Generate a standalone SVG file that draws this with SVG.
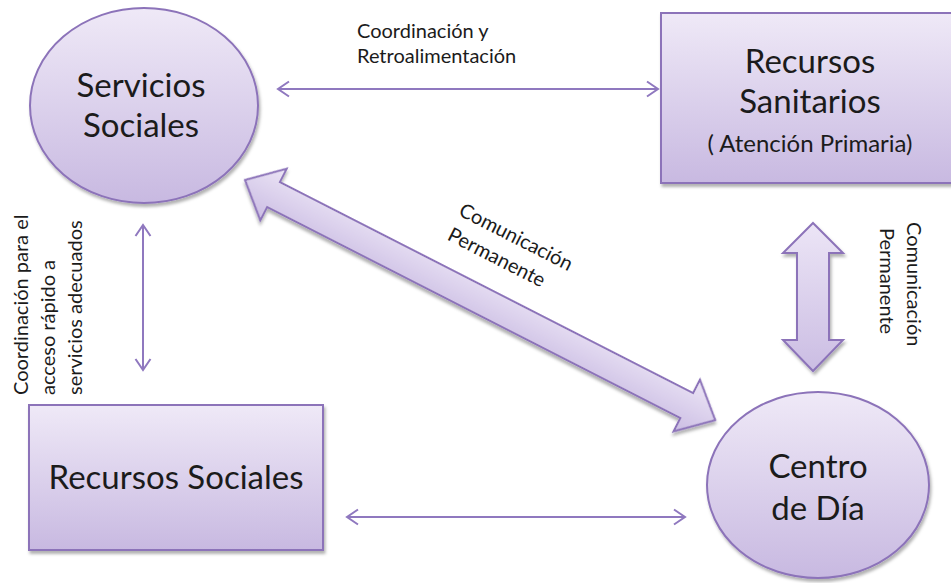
<svg xmlns="http://www.w3.org/2000/svg" width="951" height="583" viewBox="0 0 951 583">
  <style>
    .shape { fill: url(#lav); stroke: #8c73b9; stroke-width: 2; filter: url(#shadow); }
    .fat { fill: url(#lavAcross); stroke: #8c73b9; stroke-width: 2; filter: url(#shadow); }
    .big { font-family: Lato, "Open Sans", sans-serif; font-size: 33px; fill: #1b1b1b; text-anchor: middle; }
    .sub { font-family: Lato, "Open Sans", sans-serif; font-size: 24px; fill: #1b1b1b; text-anchor: middle; }
    .lbl { font-family: Lato, "Open Sans", sans-serif; font-size: 20px; fill: #1b1b1b; }
    .thin { fill: none; stroke: #8f78bf; stroke-width: 2; marker-start: url(#chev); marker-end: url(#chev); }
  </style>
  <defs>
    <linearGradient id="lav" x1="0" y1="0" x2="0" y2="1">
      <stop offset="0" stop-color="#efe9f7"/>
      <stop offset="1" stop-color="#c8b9e1"/>
    </linearGradient>
    <linearGradient id="lavAcross" x1="0" y1="0" x2="0" y2="1">
      <stop offset="0" stop-color="#ece5f6"/>
      <stop offset="1" stop-color="#cbbde3"/>
    </linearGradient>
    <filter id="shadow" x="-10%" y="-10%" width="130%" height="130%">
      <feDropShadow dx="1.5" dy="3" stdDeviation="1.8" flood-color="#000" flood-opacity="0.3"/>
    </filter>
    <marker id="chev" viewBox="-13 -9 15 18" markerWidth="15" markerHeight="18" refX="0" refY="0" orient="auto-start-reverse" markerUnits="userSpaceOnUse">
      <path d="M-11,-7.5 L0,0 L-11,7.5" fill="none" stroke="#8f78bf" stroke-width="2"/>
    </marker>
  </defs>

  <rect width="951" height="583" fill="#ffffff"/>

  <!-- thin two-way connectors and the broad arrows -->
  <g id="connectors">
    <line class="thin" x1="278" y1="89" x2="658" y2="89"/>
    <line class="thin" x1="143" y1="225" x2="143" y2="370"/>
    <line class="thin" x1="347" y1="517" x2="685" y2="517"/>
    <polygon class="fat" transform="translate(245,180) rotate(27.05)"
      points="0,0 32,-29 32,-14 496,-14 496,-29 528,0 496,29 496,14 32,14 32,29"/>
    <polygon class="fat" points="813,223 843,253 829,253 829,340 843,340 813,371 783,340 797,340 797,253 783,253"/>
  </g>

  <!-- edge labels -->
  <g id="labels">
    <text class="lbl" x="357" y="38">Coordinación y</text>
    <text class="lbl" x="357" y="63">Retroalimentación</text>
    <g transform="translate(28,395) rotate(-90)">
      <text class="lbl" x="0" y="0">Coordinación  para el</text>
      <text class="lbl" x="0" y="27">acceso rápido a</text>
      <text class="lbl" x="0" y="54">servicios adecuados</text>
    </g>
    <g transform="translate(907,222) rotate(90)">
      <text class="lbl" x="0" y="0">Comunicación</text>
      <text class="lbl" x="6" y="27">Permanente</text>
    </g>
    <g transform="translate(513,243) rotate(27)">
      <text class="lbl" x="0" y="0" text-anchor="middle">Comunicación</text>
      <text class="lbl" x="-8" y="27" text-anchor="middle">Permanente</text>
    </g>
  </g>

  <g id="servicios-sociales">
    <ellipse class="shape" cx="144" cy="105.5" rx="114" ry="97.5"/>
    <text class="big" x="141" y="97">Servicios</text>
    <text class="big" x="141" y="137">Sociales</text>
  </g>

  <g id="recursos-sanitarios">
    <rect class="shape" x="661" y="13" width="298" height="170"/>
    <text class="big" x="810" y="73">Recursos</text>
    <text class="big" x="810" y="113">Sanitarios</text>
    <text class="sub" x="810" y="152">( Atención Primaria)</text>
  </g>

  <g id="recursos-sociales">
    <rect class="shape" x="29" y="405" width="294" height="145"/>
    <text class="big" x="176" y="489">Recursos Sociales</text>
  </g>

  <g id="centro-de-dia">
    <ellipse class="shape" cx="818" cy="485" rx="111" ry="93"/>
    <text class="big" x="818" y="478">Centro</text>
    <text class="big" x="818" y="520">de Día</text>
  </g>
</svg>
